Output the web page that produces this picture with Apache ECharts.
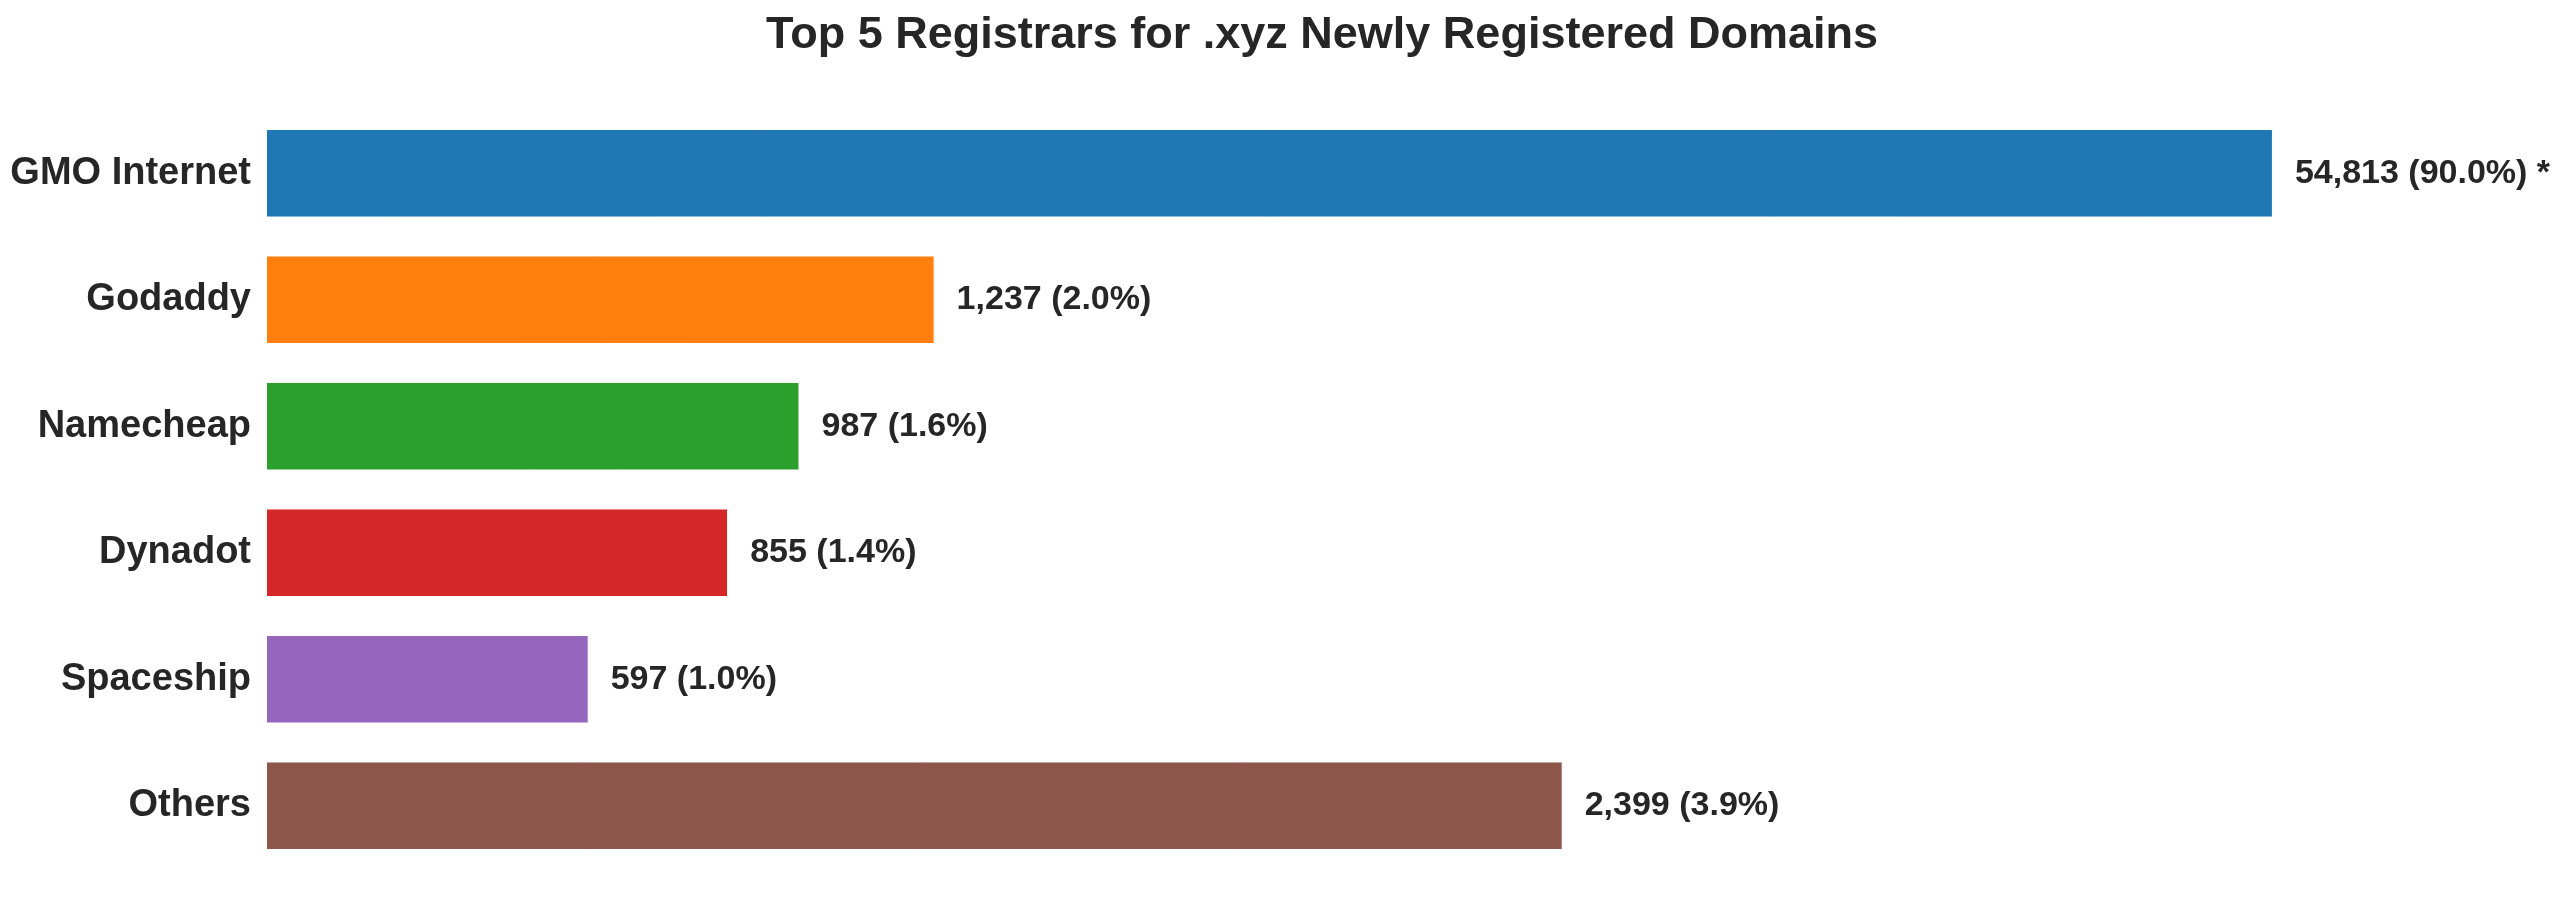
<!DOCTYPE html>
<html lang="en">
<head>
<meta charset="UTF-8">
<title>Top 5 Registrars for .xyz</title>
<script src="https://cdn.jsdelivr.net/npm/echarts@6/dist/echarts.min.js"></script>
<style>
  html, body { margin: 0; padding: 0; background: #fff; }
  #chart { width: 2560px; height: 900px; }
</style>
</head>
<body>
<div id="chart"></div>
<script>
// registrars, top to bottom
var registrars = ['GMO Internet', 'Godaddy', 'Namecheap', 'Dynadot', 'Spaceship', 'Others'];
// real counts, shown in the labels
var counts = [54813, 1237, 987, 855, 597, 2399];
// drawn bar lengths (GMO bar is cut short, marked with *)
var barLengths = [3713, 1237, 987, 855, 597, 2399];
var truncated = [true, false, false, false, false, false];
var colors = ['#1f77b4', '#ff7f0e', '#2ca02c', '#d62728', '#9467bd', '#8c564b'];

var total = 0;
for (var i = 0; i < counts.length; i++) total += counts[i];

var seriesData = [];
for (var i = 0; i < registrars.length; i++) {
  seriesData.push({ value: barLengths[i], itemStyle: { color: colors[i] } });
}

var textColor = '#262626';
var font = 'Arial, "Liberation Sans", Helvetica, sans-serif';

var chart = echarts.init(document.getElementById('chart'));
chart.setOption({
  animation: false,
  backgroundColor: '#ffffff',
  title: {
    text: 'Top 5 Registrars for .xyz Newly Registered Domains',
    left: 1317,
    textAlign: 'center',
    top: 8,
    textStyle: { fontSize: 45, fontWeight: 'bold', color: textColor, fontFamily: font }
  },
  grid: { left: 266, right: 186, top: 110, bottom: 31, containLabel: false },
  xAxis: {
    type: 'value',
    min: 0,
    max: 3900,
    show: false
  },
  yAxis: {
    type: 'category',
    data: registrars,
    inverse: true,
    axisLine: { show: false },
    axisTick: { show: false },
    splitLine: { show: false },
    axisLabel: {
      margin: 15,
      fontSize: 38,
      fontWeight: 'bold',
      color: textColor,
      fontFamily: font
    }
  },
  series: [{
    type: 'bar',
    data: seriesData,
    barCategoryGap: '30%',
    itemStyle: { borderColor: '#ffffff', borderWidth: 1 },
    label: {
      show: true,
      position: 'right',
      distance: 22,
      fontSize: 34,
      fontWeight: 'bold',
      color: textColor,
      fontFamily: font,
      formatter: function (p) {
        var c = counts[p.dataIndex];
        var pct = (c / total * 100).toFixed(1);
        return c.toLocaleString('en-US') + ' (' + pct + '%)' + (truncated[p.dataIndex] ? ' *' : '');
      }
    }
  }]
});
</script>
</body>
</html>
